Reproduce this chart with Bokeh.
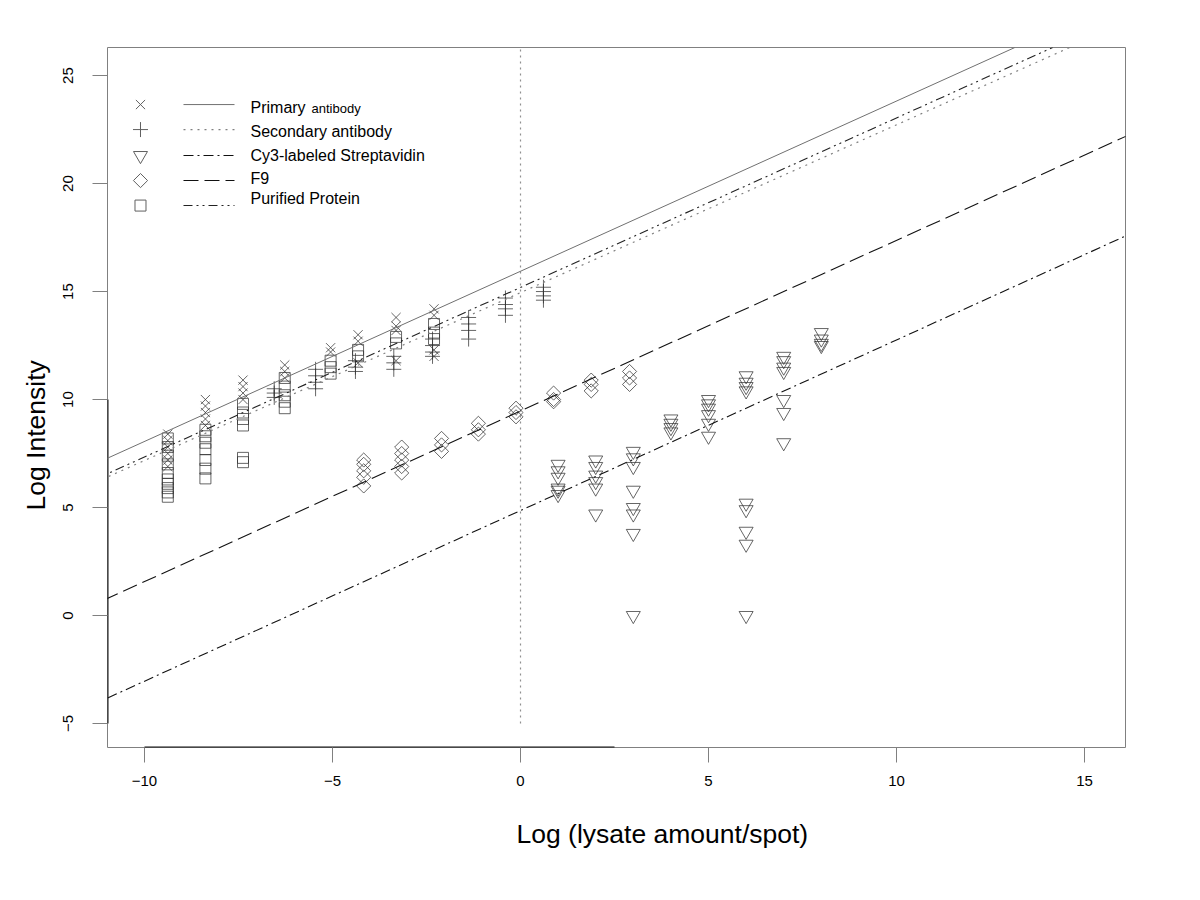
import numpy as np
from bokeh.plotting import figure
from bokeh.models import Slope, FixedTicker, Title
from bokeh.embed import file_html
from bokeh.resources import INLINE
from bokeh.core.properties import value

FONT = "Liberation Sans"

# ---------------- data ----------------
primary_cols = [-9.38, -8.38, -7.38, -6.27, -5.05, -4.32, -3.31, -2.30]
primary_vals = [
    [8.4, 8.1, 7.8, 7.5, 7.2, 6.9],
    [10.0, 9.7, 9.4, 9.1, 8.8],
    [10.9, 10.6, 10.3, 10.0],
    [11.6, 11.3, 11.0],
    [12.4, 12.2],
    [13.0, 12.7, 11.7],
    [13.8, 13.4, 13.2, 11.8],
    [14.2, 13.9, 12.3, 12.0],
]

secondary_cols = [-6.55, -5.45, -4.39, -3.37, -2.34, -1.38, -0.40, 0.61]
secondary_vals = [
    [10.5, 10.3, 10.1],
    [11.4, 11.1, 10.8, 10.5],
    [11.8, 11.5, 11.3],
    [12.0, 11.7, 11.4],
    [12.8, 12.5, 12.2, 12.0],
    [13.8, 13.5, 13.2, 12.8],
    [14.7, 14.4, 14.2, 13.9],
    [15.2, 15.0, 14.8, 14.6],
]

cy3_cols = [1, 2, 3, 4, 5, 6, 7, 8]
cy3_vals = [
    [7.0, 6.7, 6.4, 5.9, 5.8, 5.6],
    [7.2, 6.9, 6.5, 6.2, 5.9, 4.7],
    [7.6, 7.3, 6.9, 5.8, 5.0, 4.7, 3.8, 0.0],
    [9.1, 8.9, 8.7, 8.5],
    [10.0, 9.8, 9.6, 9.3, 8.9, 8.3],
    [11.1, 10.8, 10.6, 10.4, 5.2, 4.9, 3.9, 3.3, 0.0],
    [12.0, 11.8, 11.5, 11.3, 10.0, 9.4, 8.0],
    [13.1, 12.8, 12.6, 12.5],
]

f9_cols = [-4.17, -3.16, -2.10, -1.12, -0.12, 0.88, 1.88, 2.90]
f9_vals = [
    [7.2, 7.0, 6.7, 6.4, 6.0],
    [7.8, 7.5, 7.2, 6.9, 6.6],
    [8.2, 7.9, 7.6],
    [8.9, 8.6, 8.4],
    [9.6, 9.4, 9.2],
    [10.3, 10.0, 9.9],
    [10.9, 10.7, 10.4],
    [11.3, 11.0, 10.7],
]

purified_cols = [-9.38, -8.38, -7.38, -6.27, -5.05, -4.32, -3.31, -2.30]
purified_vals = [
    [8.2, 7.8, 7.4, 7.0, 6.6, 6.3, 6.1, 5.9, 5.7, 5.5],
    [8.6, 8.3, 8.0, 7.7, 7.2, 6.8, 6.35],
    [9.8, 9.4, 9.1, 8.8, 7.3, 7.1],
    [11.0, 10.6, 10.2, 9.9, 9.6],
    [11.8, 11.5, 11.2],
    [12.3, 12.0],
    [12.9, 12.6],
    [13.5, 13.1, 12.8],
]

# fitted lines: intercept / slope
fit_names = ["Primary", "Secondary", "Cy3", "F9", "Purified"]
fit_intercepts = [15.94, 14.95, 4.86, 9.47, 15.19]
fit_slopes = [0.788, 0.777, 0.79, 0.79, 0.785]

x_ticks = [-10, -5, 0, 5, 10, 15]
y_ticks = [-5, 0, 5, 10, 15, 20, 25]

legend_labels = ["Primary", "Secondary antibody", "Cy3-labeled Streptavidin", "F9", "Purified Protein"]

# ---------------- styles ----------------
MARK_COL = "#333333"
fit_dash = ["solid", "2 5", "10 4 2 4", "15 6", "9 4 2 4 2 4"]
fit_color = ["#707070", "#808080", "#111111", "#111111", "#222222"]
fit_width = [1, 1.2, 1.1, 1.1, 1.1]


def flatten(cols, vals):
    xs, ys = [], []
    for c, v in zip(cols, vals):
        xs += [c] * len(v)
        ys += list(v)
    return xs, ys


X0, X1 = -10.984, 16.09
Y0, Y1 = -6.11, 26.30
p = figure(width=1184, height=884,
           x_range=(X0, X1), y_range=(Y0, Y1),
           output_backend="svg", toolbar_location=None,
           min_border_left=107, min_border_right=59,
           min_border_top=47, min_border_bottom=137)
p.xgrid.visible = False
p.ygrid.visible = False
p.outline_line_color = "#808080"
p.outline_line_width = 1
p.background_fill_color = "white"
p.border_fill_color = "white"

p.xaxis.ticker = FixedTicker(ticks=x_ticks)
p.yaxis.ticker = FixedTicker(ticks=y_ticks)
for ax in (p.xaxis[0], p.yaxis[0]):
    ax.axis_line_color = None
    ax.major_tick_line_color = "#808080"
    ax.major_tick_out = 15
    ax.major_tick_in = 0
    ax.minor_tick_line_color = None
    ax.major_label_text_font = FONT
    ax.major_label_text_font_size = "15px"
    ax.major_label_text_color = "black"
p.xaxis.major_label_standoff = 13
p.yaxis.major_label_standoff = 19
p.yaxis.major_label_orientation = "vertical"

# axis titles (R places them off-centre; Title allows an offset)
p.add_layout(Title(text="Log (lysate amount/spot)", align="left", offset=409,
                   text_font=FONT, text_font_size="26.5px", text_font_style="normal",
                   text_color="black", standoff=57), "below")
p.add_layout(Title(text="Log Intensity", align="left", offset=237,
                   text_font=FONT, text_font_size="26.5px", text_font_style="normal",
                   text_color="black", standoff=19), "left")

# darker axis-line fragments along the box edges (as in the scan)
p.segment(x0=[-10], y0=[Y0], x1=[2.5], y1=[Y0], line_color="#111111", line_width=2)
p.segment(x0=[X0], y0=[-5], x1=[X0], y1=[10], line_color="#111111", line_width=2)

# vertical dotted reference line at x = 0
p.segment(x0=[0], y0=[-5], x1=[0], y1=[27], line_color="#909090",
          line_dash="2 4", line_width=1.2)

# fitted lines
for i in range(len(fit_names)):
    p.add_layout(Slope(gradient=fit_slopes[i], y_intercept=fit_intercepts[i],
                       line_color=fit_color[i], line_dash=fit_dash[i],
                       line_width=fit_width[i]))

# points
series = [
    (purified_cols, purified_vals, "square", 11, 0.0),
    (primary_cols, primary_vals, "x", 13, 0.0),
    (secondary_cols, secondary_vals, "cross", 15, 0.0),
    (f9_cols, f9_vals, "square", 10, np.pi / 4),
    (cy3_cols, cy3_vals, "inverted_triangle", 14, 0.0),
]
for cols, vals, mk, sz, ang in series:
    xs, ys = flatten(cols, vals)
    p.scatter(xs, ys, marker=mk, size=sz, angle=ang, fill_color=None,
              line_color=MARK_COL, line_alpha=0.75, line_width=1)

# ---------------- legend (manual, R style) ----------------
ppx = 37.6
ppy = 21.6
def dx(px):
    return (px - 520) / ppx
def dy(py):
    return (615 - py) / ppy

sym_y = [104, 129, 155, 180, 205]
txt_y = [107, 131, 155, 178, 198]
leg_markers = [("x", 13, 0.0), ("cross", 15, 0.0), ("inverted_triangle", 14, 0.0),
               ("square", 10, np.pi / 4), ("square", 11, 0.0)]
for i, (mk, sz, ang) in enumerate(leg_markers):
    p.scatter([dx(140)], [dy(sym_y[i])], marker=mk, size=sz, angle=ang,
              fill_color=None, line_color="#606060", line_width=1)
    p.line([dx(183), dx(234)], [dy(sym_y[i]), dy(sym_y[i])],
           line_color=fit_color[i], line_dash=fit_dash[i], line_width=fit_width[i])

for i, lab in enumerate(legend_labels):
    p.text([dx(250)], [dy(txt_y[i])], text=[lab], text_font=value(FONT),
           text_font_size="16px", text_baseline="middle", text_align="left",
           text_color="black")
p.text([dx(311)], [dy(txt_y[0] + 1)], text=["antibody"], text_font=value(FONT),
       text_font_size="13px", text_baseline="middle", text_align="left",
       text_color="black")

open("out.html", "w").write(file_html(p, INLINE))
